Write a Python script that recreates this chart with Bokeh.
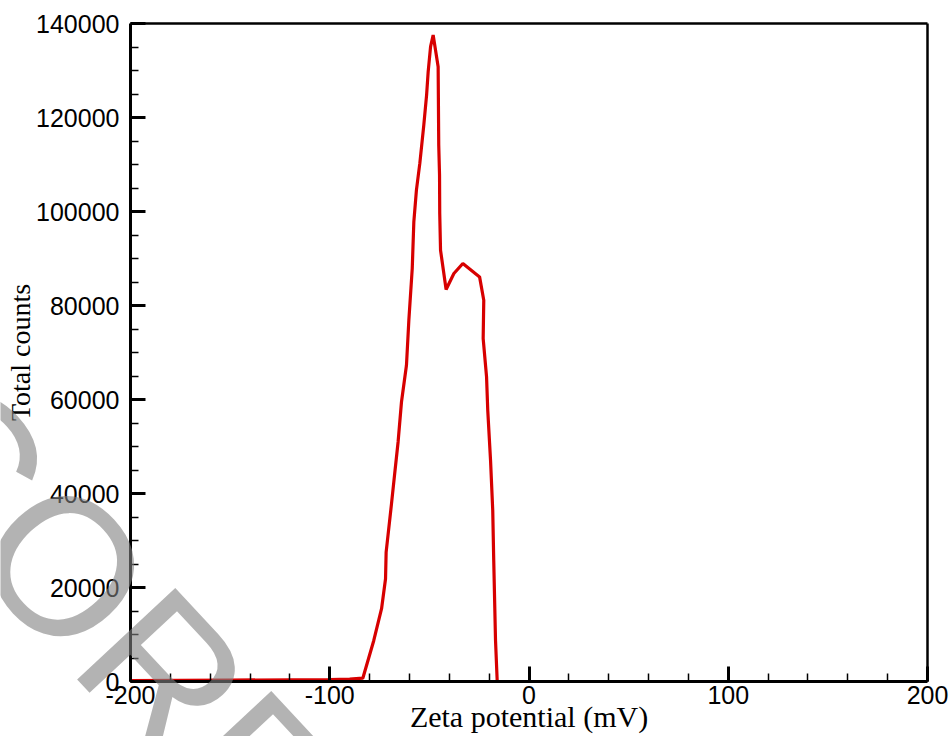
import math
from bokeh.plotting import figure
from bokeh.models import (Range1d, SingleIntervalTicker, FixedTicker, Label,
                          PrintfTickFormatter, LinearAxis)
from bokeh.embed import file_html
from bokeh.resources import INLINE

# Data
zeta_mv = [-200, -150, -100, -90, -83.4, -77.9, -74.0, -72.0, -71.7, -69.0,
           -67.5, -65.7, -64.0, -61.5, -60.3, -58.6, -57.8, -56.5, -54.8, -52.8,
           -51.4, -50.6, -49.4, -48.1, -45.6, -45.3, -44.9, -44.8, -44.4, -41.6,
           -37.7, -33.2, -24.8, -22.7, -23.0, -21.3, -20.7, -19.3, -18.2, -17.7,
           -16.8, -15.95]
total_counts = [200, 300, 400, 500, 700, 8730, 15480, 21870, 27530, 37840,
                43860, 50960, 59470, 67290, 76870, 87870, 97800, 104550, 110230, 118390,
                124780, 129740, 135060, 137550, 130800, 114130, 107740, 99580, 91770, 83400,
                86800, 88940, 86090, 81130, 72970, 64800, 57700, 47060, 36410, 25770,
                8730, 0]

x_title = "Zeta potential (mV)"
y_title = "Total counts"
watermark = "CORRECTED PROOF"

# axis extents of the drawn box
X_MIN, X_MAX = -200, 200
Y_MIN, Y_MAX = 0, 140000

# Canvas geometry: box drawn from px 130..927 horizontally, 23..681 vertically
W, H = 949, 736
L, R, T, B = 130, 927, 23, 681
sx = (R - L) / (X_MAX - X_MIN)
sy = (B - T) / (Y_MAX - Y_MIN)
x_start = X_MIN - L / sx
x_end = X_MAX + (W - R) / sx
y_start = Y_MIN - (H - B) / sy
y_end = Y_MAX + T / sy

p = figure(width=W, height=H, output_backend="svg", toolbar_location=None,
           x_range=Range1d(x_start, x_end), y_range=Range1d(y_start, y_end),
           x_axis_location=None, y_axis_location=None, min_border=0)
p.background_fill_color = "white"
p.border_fill_color = "white"
p.outline_line_color = None
p.grid.visible = False

p.line(zeta_mv, total_counts, line_color="#d70000", line_width=3.2)


def style(ax):
    ax.formatter = PrintfTickFormatter(format="%d")
    ax.axis_line_width = 3
    ax.axis_line_color = "black"
    ax.major_tick_out = 0
    ax.major_tick_in = 15
    ax.major_tick_line_width = 3
    ax.major_tick_line_color = "black"
    ax.minor_tick_out = 0
    ax.minor_tick_in = 8
    ax.minor_tick_line_width = 1.5
    ax.minor_tick_line_color = "black"
    ax.major_label_text_font = "Liberation Sans"
    ax.major_label_text_font_size = "25px"
    ax.major_label_text_color = "black"
    ax.axis_label_text_font = "Liberation Serif"
    ax.axis_label_text_font_style = "normal"
    ax.axis_label_text_color = "black"


xaxis = LinearAxis(fixed_location=Y_MIN, bounds=(X_MIN, X_MAX),
                   ticker=SingleIntervalTicker(interval=100, num_minor_ticks=5))
style(xaxis)
xaxis.major_label_standoff = 4
xaxis.axis_label = x_title
xaxis.axis_label_text_font_size = "30px"
xaxis.axis_label_standoff = -7
p.add_layout(xaxis, "below")

yaxis = LinearAxis(fixed_location=X_MIN, bounds=(Y_MIN, Y_MAX),
                   ticker=SingleIntervalTicker(interval=20000, num_minor_ticks=4))
style(yaxis)
yaxis.major_label_standoff = 11
yaxis.axis_label = y_title
yaxis.axis_label_text_font_size = "28px"
yaxis.axis_label_standoff = -3
p.add_layout(yaxis, "left")

# plain top and right box edges
for loc, bnds, side in ((Y_MAX, (X_MIN, X_MAX), "above"),
                        (X_MAX, (Y_MIN, Y_MAX), "right")):
    edge = LinearAxis(fixed_location=loc, bounds=bnds, ticker=FixedTicker(ticks=[]),
                      axis_line_width=2.5, axis_line_color="black",
                      major_tick_line_color=None, minor_tick_line_color=None,
                      major_label_text_font_size="0px")
    p.add_layout(edge, side)

# watermark (page anchor approx. at -84, 407 px)
wm_x = X_MIN + (-84 - L) / sx
wm_y = Y_MIN + (B - 407) / sy
p.add_layout(Label(x=wm_x, y=wm_y, text=watermark, angle=-47 * math.pi / 180,
                   text_align="left", text_baseline="alphabetic",
                   text_font="Liberation Sans", text_font_size="195px",
                   text_color="#808080", text_alpha=0.6))

open("out.html", "w").write(file_html(p, INLINE))
